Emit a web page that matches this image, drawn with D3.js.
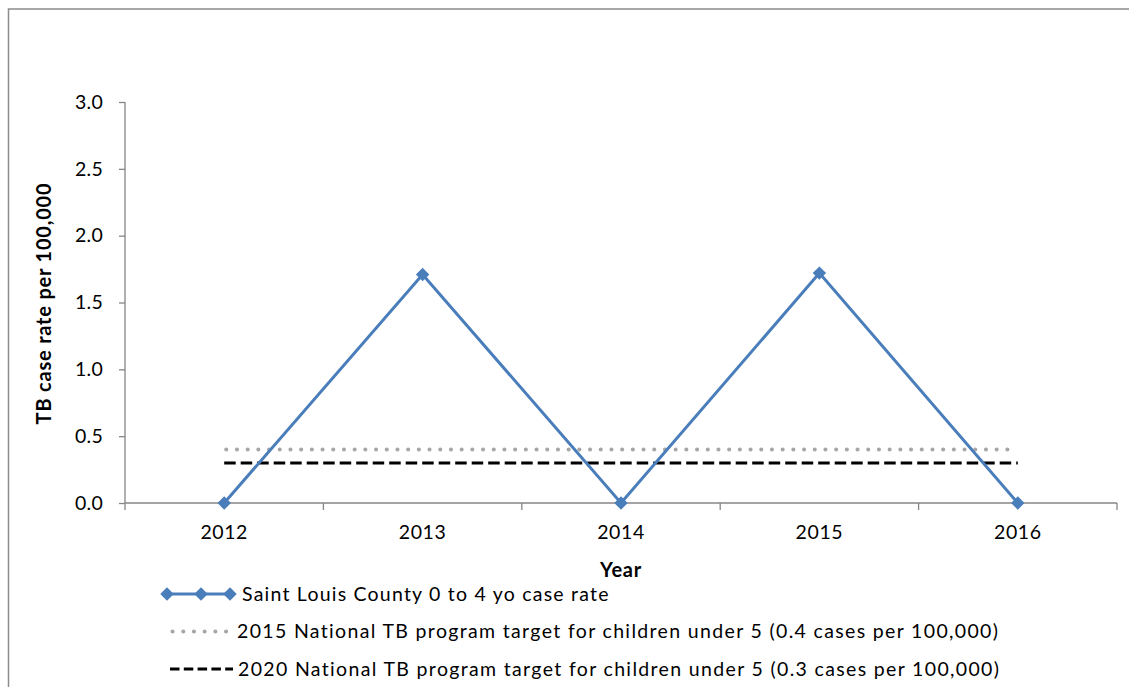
<!DOCTYPE html>
<html>
<head>
<meta charset="utf-8">
<script src="https://cdn.jsdelivr.net/npm/d3@7"></script>
<style>
  html, body { margin: 0; padding: 0; background: #fff; }
  svg { display: block; font-family: Lato, "Noto Sans", sans-serif; }
</style>
</head>
<body>
<svg id="chart" width="1129" height="687"></svg>
<script>
const years = ["2012", "2013", "2014", "2015", "2016"];
const caseRates = [0, 1.71, 0, 1.72, 0];
const target2015 = 0.4;
const target2020 = 0.3;
const yTicks = [0, 0.5, 1.0, 1.5, 2.0, 2.5, 3.0];
const seriesNames = [
  "Saint Louis County 0 to 4 yo case rate",
  "2015 National TB program target for children under 5 (0.4 cases per 100,000)",
  "2020 National TB program target for children under 5 (0.3 cases per 100,000)"
];
const xTitle = "Year";
const yTitle = "TB case rate per 100,000";

const svg = d3.select("#chart");
const m = { left: 125, right: 1117, top: 102, bottom: 503 };

// outer frame
svg.append("rect").attr("x", 8.5).attr("y", 9).attr("width", 1140).attr("height", 700)
  .attr("fill", "none").attr("stroke", "#8c8c8c").attr("stroke-width", 1.5);

const x = d3.scaleBand().domain(years).range([m.left, m.right]).paddingInner(0).paddingOuter(0);
const y = d3.scaleLinear().domain([0, 3]).range([m.bottom, m.top]);
const cx = d => x(d) + x.bandwidth() / 2;

const axisColor = "#868686";
const tickFont = "19.5px";

// y axis
const yAxis = svg.append("g").attr("transform", `translate(${m.left},0)`)
  .call(d3.axisLeft(y).tickValues(yTicks).tickFormat(d3.format(".1f")).tickSize(6).tickPadding(16));
yAxis.select(".domain").attr("stroke", axisColor).attr("stroke-width", 1.3).attr("d", `M-0,${m.top}V${m.bottom}`);
yAxis.selectAll(".tick line").attr("stroke", axisColor).attr("stroke-width", 1.3);
yAxis.selectAll(".tick text").attr("fill", "#000").style("font-size", tickFont).style("font-family", "Lato, sans-serif").style("letter-spacing", "0.3px");

// x axis
const xAxis = svg.append("g").attr("transform", `translate(0,${m.bottom})`)
  .call(d3.axisBottom(x).tickSize(0).tickPadding(22));
xAxis.select(".domain").attr("stroke", axisColor).attr("stroke-width", 1.3).attr("d", `M${m.left},0H${m.right}`);
xAxis.selectAll(".tick text").attr("fill", "#000").style("font-size", tickFont).style("font-family", "Lato, sans-serif").style("letter-spacing", "0.6px");
const bounds = years.map(d => x(d)).concat([x(years[years.length - 1]) + x.bandwidth()]);
xAxis.selectAll(".bound").data(bounds).enter().append("line")
  .attr("x1", d => d).attr("x2", d => d).attr("y1", 0).attr("y2", 7)
  .attr("stroke", axisColor).attr("stroke-width", 1.3);

// titles
svg.append("text").attr("x", cx("2014")).attr("y", 577).attr("text-anchor", "middle")
  .style("font-weight", "bold").style("font-size", "20px").style("letter-spacing", "0.8px").text(xTitle);
svg.append("text").attr("transform", `translate(51,${(m.top + m.bottom) / 2 + 1}) rotate(-90)`)
  .attr("text-anchor", "middle").style("font-weight", "bold").style("font-size", "20px")
  .style("letter-spacing", "0.8px").text(yTitle);

// target lines
const x0 = cx(years[0]), x1 = cx(years[years.length - 1]);
const dotStyle = sel => sel.attr("stroke", "#a6a6a6").attr("stroke-width", 4)
  .attr("stroke-dasharray", "0.1 10.6").attr("stroke-linecap", "round");
const dashStyle = (sel, dash) => sel.attr("stroke", "#000").attr("stroke-width", 3).attr("stroke-dasharray", dash);
svg.append("line").attr("x1", x0 + 2).attr("x2", x1).attr("y1", y(target2015)).attr("y2", y(target2015)).call(dotStyle);
svg.append("line").attr("x1", x0).attr("x2", x1).attr("y1", y(target2020)).attr("y2", y(target2020))
  .call(dashStyle, "11.5 5");

// main series
const blue = "#4a7ebb";
const line = d3.line().x((d, i) => cx(years[i])).y(d => y(d));
svg.append("path").datum(caseRates).attr("d", line).attr("fill", "none")
  .attr("stroke", blue).attr("stroke-width", 3);
const diamond = d3.symbol().type(d3.symbolDiamond2).size(115);
svg.selectAll(".mk").data(caseRates).enter().append("path")
  .attr("transform", (d, i) => `translate(${cx(years[i])},${y(d)})`)
  .attr("d", diamond).attr("fill", blue);

// legend
const leg = svg.append("g");
const ly = [594, 631.5, 669];
leg.append("line").attr("x1", 167).attr("x2", 230).attr("y1", ly[0]).attr("y2", ly[0])
  .attr("stroke", blue).attr("stroke-width", 3);
[167, 201, 230].forEach(px => leg.append("path").attr("transform", `translate(${px},${ly[0]})`)
  .attr("d", diamond).attr("fill", blue));
leg.append("line").attr("x1", 172.5).attr("x2", 228).attr("y1", ly[1]).attr("y2", ly[1]).call(dotStyle);
leg.append("line").attr("x1", 170).attr("x2", 233).attr("y1", ly[2]).attr("y2", ly[2])
  .call(dashStyle, "9.5 4.3");
const lx = [242, 237, 238];
const ls = ["1.22px", "1.34px", "1.34px"];
seriesNames.forEach((s, i) => leg.append("text").attr("x", lx[i]).attr("y", ly[i]).attr("dy", "0.35em")
  .style("font-size", "19.5px").style("letter-spacing", ls[i]).text(s));
</script>
</body>
</html>
